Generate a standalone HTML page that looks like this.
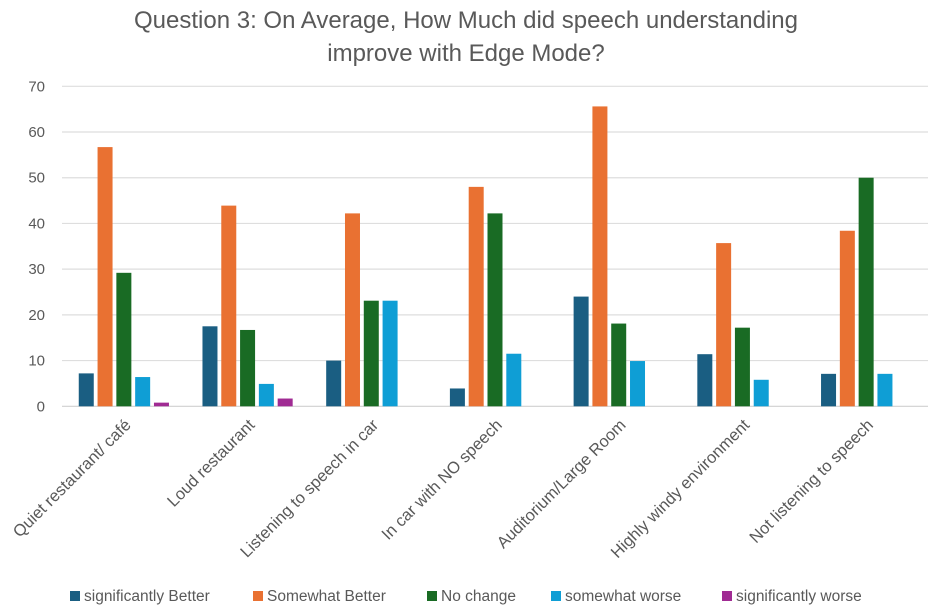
<!DOCTYPE html>
<html><head><meta charset="utf-8">
<style>
body{margin:0;background:#fff;}
svg text{font-family:"Liberation Sans",sans-serif;fill:#595959;}
</style></head>
<body>
<svg id="chart" width="935" height="611" xmlns="http://www.w3.org/2000/svg">
<text x="466" y="28" font-size="24" text-anchor="middle">Question 3: On Average, How Much did speech understanding</text>
<text x="466" y="61" font-size="24" text-anchor="middle">improve with Edge Mode?</text>
<g id="grid"></g><g id="bars"></g><g id="xlabels"></g><g id="legend"></g>
</svg>
<script>
const categories=["Quiet restaurant/ café","Loud restaurant","Listening to speech in car","In car with NO speech","Auditorium/Large Room","Highly windy environment","Not listening to speech"];
const seriesNames=["significantly Better","Somewhat Better","No change","somewhat worse","significantly worse"];
const sigBetter=[7.2,17.5,10.0,3.9,24.0,11.4,7.1];
const somewhatBetter=[56.7,43.9,42.2,48.0,65.6,35.7,38.4];
const noChange=[29.2,16.7,23.1,42.2,18.1,17.2,50.0];
const somewhatWorse=[6.4,4.9,23.1,11.5,9.9,5.8,7.1];
const sigWorse=[0.8,1.7,0,0,0,0,0];
const yTicks=[0,10,20,30,40,50,60,70];
const colors=["#1a5e82","#e97132","#196b24","#0f9ed5","#a02b93"];
const series=[sigBetter,somewhatBetter,noChange,somewhatWorse,sigWorse];
const NS="http://www.w3.org/2000/svg";
const x0=62,x1=928,yBase=406.3,yTop=86.3,yMax=70;
const gw=(x1-x0)/categories.length;
function y(v){return yBase-(v/yMax)*(yBase-yTop);}
function xc(i){return x0+gw*(i+0.5);}
function mk(t,a,p){const e=document.createElementNS(NS,t);for(const k in a)e.setAttribute(k,a[k]);p.appendChild(e);return e;}
const grid=document.getElementById('grid');
yTicks.forEach(t=>{
  const l=mk('line',{x1:x0,x2:x1,y1:y(t),y2:y(t),stroke:t===0?'#d0d0d0':'#dedede','stroke-width':1.2},grid);
  
  
  const tx=mk('text',{x:45,y:y(t)+5,'font-size':15,'text-anchor':'end'},grid);
  tx.textContent=t;
  
  
});
const bars=document.getElementById('bars');
const bw=15,step=18.8;
categories.forEach((c,i)=>{
  series.forEach((s,j)=>{
    const v=s[i]; if(!v) return;
    const bx=xc(i)+(j-2)*step-bw/2;
    const r=mk('rect',{x:bx,y:y(v),width:bw,height:yBase-y(v),fill:colors[j]},bars);
    
    
  });
  const t=mk('text',{x:0,y:0,'font-size':16.5,'text-anchor':'end',transform:'translate('+(xc(i)+8)+',426) rotate(-45)'},document.getElementById('xlabels'));
  t.textContent=c;
  
  
});
const lg=document.getElementById('legend');
const lx=[70,253,427,551,722];
seriesNames.forEach((n,j)=>{
  const g=mk('g',{},lg);
  
  
  mk('rect',{x:lx[j],y:591,width:10,height:10,fill:colors[j]},g);
  const t=mk('text',{x:lx[j]+14,y:601,'font-size':15.5},g);
  t.textContent=n;
});
</script>
</body></html>
